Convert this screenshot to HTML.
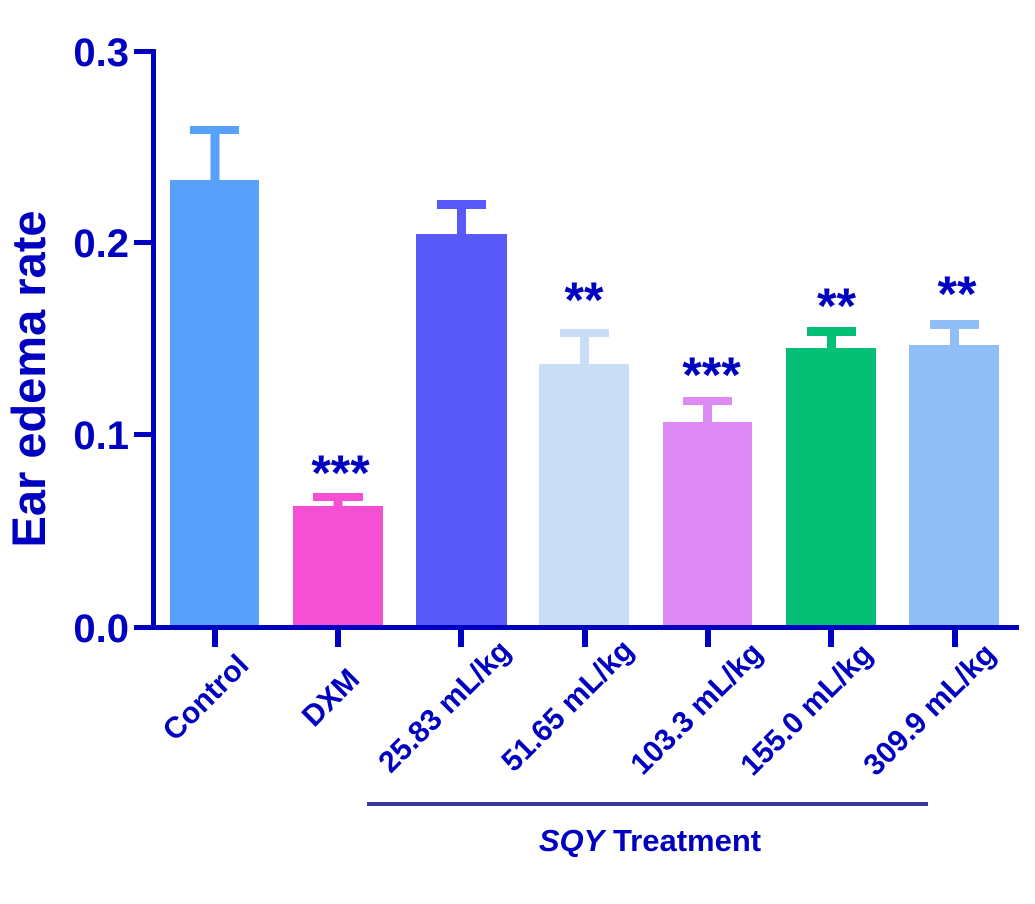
<!DOCTYPE html>
<html>
<head>
<meta charset="utf-8">
<style>
  html, body { margin: 0; padding: 0; background: #ffffff; }
  body { width: 1035px; height: 904px; overflow: hidden; }
  svg { display: block; }
  text { font-family: "Liberation Sans", Arial, sans-serif; font-weight: bold; fill: #0000c0; }
</style>
</head>
<body>
<svg width="1035" height="904" viewBox="0 0 1035 904" xmlns="http://www.w3.org/2000/svg">
  <rect x="0" y="0" width="1035" height="904" fill="#ffffff"/>

  <!-- Bars -->
  <!-- Control -->
  <rect x="170" y="180" width="89" height="447" fill="#58a1fb"/>
  <rect x="210.5" y="130" width="9" height="52" fill="#58a1fb"/>
  <rect x="190" y="126" width="49" height="8" fill="#58a1fb"/>
  <!-- DXM -->
  <rect x="293" y="506" width="90" height="121" fill="#f54fd4"/>
  <rect x="333.5" y="497" width="9" height="11" fill="#f54fd4"/>
  <rect x="313" y="493" width="50" height="8" fill="#f54fd4"/>
  <!-- 25.83 -->
  <rect x="416" y="234" width="91" height="393" fill="#5959f9"/>
  <rect x="457" y="204" width="9" height="32" fill="#5959f9"/>
  <rect x="437" y="200" width="49" height="9" fill="#5959f9"/>
  <!-- 51.65 -->
  <rect x="539" y="364" width="90" height="263" fill="#c9ddf7"/>
  <rect x="580" y="333" width="9" height="33" fill="#c9ddf7"/>
  <rect x="560" y="329" width="49" height="8" fill="#c9ddf7"/>
  <!-- 103.3 -->
  <rect x="663" y="422" width="89" height="205" fill="#dd8af5"/>
  <rect x="703" y="401" width="9" height="23" fill="#dd8af5"/>
  <rect x="683" y="397" width="49" height="8" fill="#dd8af5"/>
  <!-- 155.0 -->
  <rect x="786" y="348" width="90" height="279" fill="#06bf76"/>
  <rect x="827" y="331" width="9" height="19" fill="#06bf76"/>
  <rect x="807" y="327" width="49" height="9" fill="#06bf76"/>
  <!-- 309.9 -->
  <rect x="909" y="345" width="90" height="282" fill="#92bef8"/>
  <rect x="950" y="324" width="9" height="23" fill="#92bef8"/>
  <rect x="930" y="320" width="49" height="9" fill="#92bef8"/>

  <!-- Axes -->
  <rect x="151" y="49" width="5" height="581" fill="#0000c0"/>
  <rect x="151" y="625" width="868" height="5" fill="#0000c0"/>
  <!-- Y ticks -->
  <rect x="134" y="49" width="20" height="5" fill="#0000c0"/>
  <rect x="134" y="240" width="20" height="5" fill="#0000c0"/>
  <rect x="134" y="432" width="20" height="5" fill="#0000c0"/>
  <rect x="134" y="625" width="20" height="5" fill="#0000c0"/>
  <!-- X ticks -->
  <rect x="212" y="628" width="6" height="19" fill="#0000c0"/>
  <rect x="335" y="628" width="6" height="19" fill="#0000c0"/>
  <rect x="458" y="628" width="6" height="19" fill="#0000c0"/>
  <rect x="582" y="628" width="6" height="19" fill="#0000c0"/>
  <rect x="705" y="628" width="6" height="19" fill="#0000c0"/>
  <rect x="828" y="628" width="6" height="19" fill="#0000c0"/>
  <rect x="952" y="628" width="6" height="19" fill="#0000c0"/>

  <!-- Y tick labels -->
  <text x="129" y="66" font-size="40" text-anchor="end">0.3</text>
  <text x="129" y="257" font-size="40" text-anchor="end">0.2</text>
  <text x="129" y="449" font-size="40" text-anchor="end">0.1</text>
  <text x="129" y="642" font-size="40" text-anchor="end">0.0</text>

  <!-- Y axis title -->
  <text transform="translate(45,379) rotate(-90)" font-size="47" text-anchor="middle">Ear edema rate</text>

  <!-- Significance asterisks -->
  <text x="340.5" y="490" font-size="50" text-anchor="middle">***</text>
  <text x="584" y="317" font-size="50" text-anchor="middle">**</text>
  <text x="711.5" y="392" font-size="50" text-anchor="middle">***</text>
  <text x="836.5" y="323" font-size="50" text-anchor="middle">**</text>
  <text x="957" y="311" font-size="50" text-anchor="middle">**</text>

  <!-- X category labels (rotated) -->
  <text transform="translate(205,697) rotate(-45)" font-size="30" text-anchor="middle" dy="0.36em">Control</text>
  <text transform="translate(330,697) rotate(-45)" font-size="30" text-anchor="middle" dy="0.36em">DXM</text>
  <text transform="translate(446,708) rotate(-45)" font-size="30" text-anchor="middle" dy="0.26em">25.83 mL/kg</text>
  <text transform="translate(569,707) rotate(-45)" font-size="30" text-anchor="middle" dy="0.26em">51.65 mL/kg</text>
  <text transform="translate(698,710) rotate(-45)" font-size="30" text-anchor="middle" dy="0.26em">103.3 mL/kg</text>
  <text transform="translate(808,711) rotate(-45)" font-size="30" text-anchor="middle" dy="0.26em">155.0 mL/kg</text>
  <text transform="translate(931,711) rotate(-45)" font-size="30" text-anchor="middle" dy="0.26em">309.9 mL/kg</text>

  <!-- Group line -->
  <rect x="367" y="802" width="561" height="4" fill="#3a3a9c"/>

  <!-- Group label -->
  <text x="650" y="851" font-size="31" text-anchor="middle"><tspan font-style="italic">SQY</tspan> Treatment</text>
</svg>
</body>
</html>
